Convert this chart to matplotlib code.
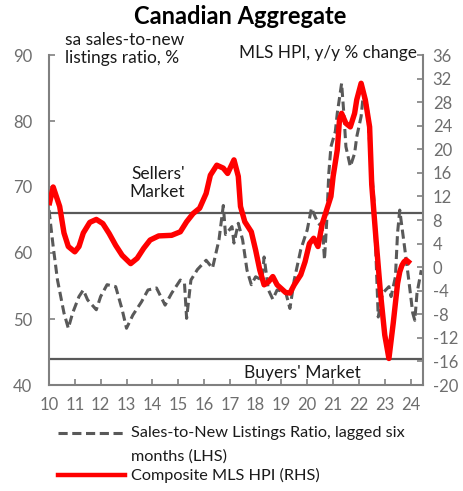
import pandas as pd
import matplotlib
matplotlib.use('Agg')
import matplotlib.pyplot as plt
from matplotlib.lines import Line2D

plt.rcParams['font.family'] = ['Lato', 'DejaVu Sans']
plt.rcParams['axes.unicode_minus'] = False

# Composite MLS HPI, y/y % change (RHS)
hpi_months = ['2010-01', '2010-03', '2010-06', '2010-08', '2010-10', '2011-01', '2011-03',
              '2011-05', '2011-08', '2011-11', '2012-02', '2012-05', '2012-08', '2012-11',
              '2013-03', '2013-06', '2013-09', '2013-12', '2014-04', '2014-10', '2015-02',
              '2015-05', '2015-08', '2015-11', '2016-02', '2016-04', '2016-07', '2016-10',
              '2016-12', '2017-03', '2017-05', '2017-06', '2017-08', '2017-11', '2018-01',
              '2018-03', '2018-05', '2018-07', '2018-09', '2018-11', '2019-03', '2019-05',
              '2019-07', '2019-10', '2019-12', '2020-02', '2020-04', '2020-06', '2020-08',
              '2020-10', '2020-12', '2021-01', '2021-03', '2021-04', '2021-05', '2021-07',
              '2021-09', '2021-11', '2021-12', '2022-02', '2022-04', '2022-06', '2022-07',
              '2022-09', '2022-11', '2023-01', '2023-03', '2023-05', '2023-07', '2023-08',
              '2023-09', '2023-10', '2023-11', '2024-01']
hpi_values = [10.5, 13.6, 10.3, 5.8, 3.5, 2.6, 3.5,
              5.8, 7.6, 8.1, 7.4, 5.7, 3.7, 2.0,
              0.6, 1.5, 3.2, 4.6, 5.3, 5.4, 6.0,
              7.7, 9.1, 10.0, 12.5, 15.6, 17.3, 16.8,
              15.9, 18.2, 15.4, 10.3, 7.7, 6.0, 2.9,
              -0.5, -3.0, -2.5, -1.6, -3.0, -4.3, -4.4,
              -3.0, -1.3, 0.9, 4.0, 4.9, 3.5, 7.4,
              9.7, 12.0, 15.4, 19.9, 25.0, 26.1, 24.4,
              23.8, 26.1, 28.4, 31.2, 28.4, 23.8, 14.0,
              4.5, -4.3, -11.5, -15.5, -9.5, -2.8, -0.8,
              0.3, 0.9, 1.2, 0.6]

# Sales-to-new listings ratio, lagged six months (LHS)
snlr_months = ['2010-01', '2010-03', '2010-05', '2010-08', '2010-10', '2010-12', '2011-03',
               '2011-05', '2011-07', '2011-11', '2012-01', '2012-04', '2012-08', '2012-11',
               '2013-01', '2013-04', '2013-08', '2013-11', '2014-03', '2014-07', '2014-10',
               '2015-02', '2015-04', '2015-05', '2015-07', '2015-10', '2016-02', '2016-05',
               '2016-08', '2016-10', '2016-11', '2017-02', '2017-03', '2017-05', '2017-07',
               '2017-09', '2017-11', '2018-01', '2018-04', '2018-05', '2018-07', '2018-09',
               '2018-11', '2019-03', '2019-05', '2019-07', '2019-10', '2020-01', '2020-03',
               '2020-06', '2020-08', '2020-09', '2020-10', '2020-11', '2020-12', '2021-02',
               '2021-03', '2021-05', '2021-06', '2021-07', '2021-09', '2021-11', '2021-12',
               '2022-02', '2022-03', '2022-05', '2022-06', '2022-08', '2022-09', '2022-10',
               '2022-12', '2023-03', '2023-04', '2023-06', '2023-07', '2023-08', '2023-10',
               '2023-12', '2024-02', '2024-03', '2024-04', '2024-06']
snlr_values = [66.5, 61.0, 55.9, 50.9, 48.6, 50.9, 53.4,
               54.4, 52.9, 51.4, 53.4, 55.2, 54.9, 51.4,
               48.6, 50.6, 52.6, 54.4, 54.7, 52.1, 53.9,
               55.9, 55.4, 50.1, 55.9, 57.5, 58.9, 57.7,
               62.0, 67.2, 62.8, 64.0, 61.5, 64.5, 62.0,
               57.4, 55.2, 56.4, 55.9, 59.4, 54.4, 53.0,
               54.4, 54.1, 51.6, 55.9, 60.5, 63.5, 66.8,
               64.5, 64.0, 59.0, 64.5, 72.1, 76.1, 78.4,
               81.2, 85.7, 81.2, 76.1, 73.1, 75.1, 77.6,
               80.7, 83.7, 82.2, 76.6, 68.0, 58.9, 50.3,
               53.9, 54.9, 53.4, 56.4, 63.0, 66.5, 61.5,
               56.4, 50.9, 49.8, 53.9, 57.4]

year_labels = ['10', '11', '12', '13', '14', '15', '16', '17',
               '18', '19', '20', '21', '22', '23', '24']
sellers_level = 66
buyers_level = 44

W, H = 463, 491


def fx(px):
    return px / W


def fy(py):
    return 1 - py / H


fig = plt.figure(figsize=(W / 100, H / 100), dpi=100)
ax = fig.add_axes([fx(49), fy(385), fx(423) - fx(49), fy(55) - fy(385)])
ax2 = ax.twinx()

axis_grey = '#808080'
label_grey = '#6e6e6e'

ax.axhline(sellers_level, color='#595959', lw=1.6, zorder=1)
ax.axhline(buyers_level, color='#595959', lw=1.6, zorder=1)

snlr_line, = ax.plot(pd.to_datetime(snlr_months), snlr_values, color='#595959', lw=2.2,
                     zorder=2)
snlr_line.set_dashes((3, 1.5))
ax2.plot(pd.to_datetime(hpi_months), hpi_values, color='#ff0000', lw=3.9,
         solid_joinstyle='round', solid_capstyle='butt')

ax.set_xlim(pd.Timestamp('2010-01-01'), pd.Timestamp('2024-06-25'))
ax.set_ylim(40, 90)
ax2.set_ylim(-20, 36)
ax.set_yticks(range(40, 91, 10))
ax2.set_yticks(range(-20, 37, 4))
ax.set_xticks(pd.to_datetime(['20' + y + '-01-01' for y in year_labels]))
ax.set_xticklabels(year_labels)

for a in (ax, ax2):
    for s in a.spines.values():
        s.set_visible(False)
for s in ('left', 'bottom'):
    ax.spines[s].set_visible(True)
    ax.spines[s].set_color(axis_grey)
    ax.spines[s].set_linewidth(1.5)
ax2.spines['right'].set_visible(True)
ax2.spines['right'].set_color(axis_grey)
ax2.spines['right'].set_linewidth(1.5)

ax.tick_params(axis='y', direction='in', length=4, width=1.2, color=axis_grey,
               pad=12, labelsize=12, labelcolor=label_grey)
ax.tick_params(axis='x', direction='in', length=4, width=1.2, color=axis_grey,
               pad=9, labelsize=12, labelcolor=label_grey)
ax2.tick_params(axis='y', direction='in', length=4, width=1.2, color=axis_grey,
                pad=7, labelsize=12, labelcolor=label_grey)

text_color = '#1a1a1a'
fig.text(fx(240), fy(17), 'Canadian Aggregate', ha='center', va='center',
         fontsize=17, fontweight='bold', color='black')
fig.text(fx(65), fy(49), 'sa sales-to-new\nlistings ratio, %', ha='left', va='center',
         fontsize=12.5, color=text_color, linespacing=1.2)
fig.text(fx(417), fy(53), 'MLS HPI, y/y % change', ha='right', va='center',
         fontsize=12.4, color=text_color)
fig.text(fx(185), fy(183), "Sellers'\nMarket", ha='right', va='center',
         fontsize=12.5, color=text_color, linespacing=1.2)
fig.text(fx(302), fy(373), "Buyers' Market", ha='center', va='center',
         fontsize=12.5, color=text_color)

# legend drawn by hand so the dashed key sits on the first text line
fig.add_artist(Line2D([fx(58), fx(125)], [fy(433), fy(433)], color='#595959', lw=2.2,
                      dashes=(3, 1.5)))
fig.add_artist(Line2D([fx(58), fx(125)], [fy(475), fy(475)], color='#ff0000', lw=3.2))
fig.text(fx(131), fy(433), 'Sales-to-New Listings Ratio, lagged six', ha='left',
         va='center', fontsize=11.7, color=text_color)
fig.text(fx(131), fy(457), 'months (LHS)', ha='left', va='center', fontsize=11.7,
         color=text_color)
fig.text(fx(131), fy(475), 'Composite MLS HPI (RHS)', ha='left', va='center',
         fontsize=11.7, color=text_color)

fig.savefig('out.png', dpi=100)
